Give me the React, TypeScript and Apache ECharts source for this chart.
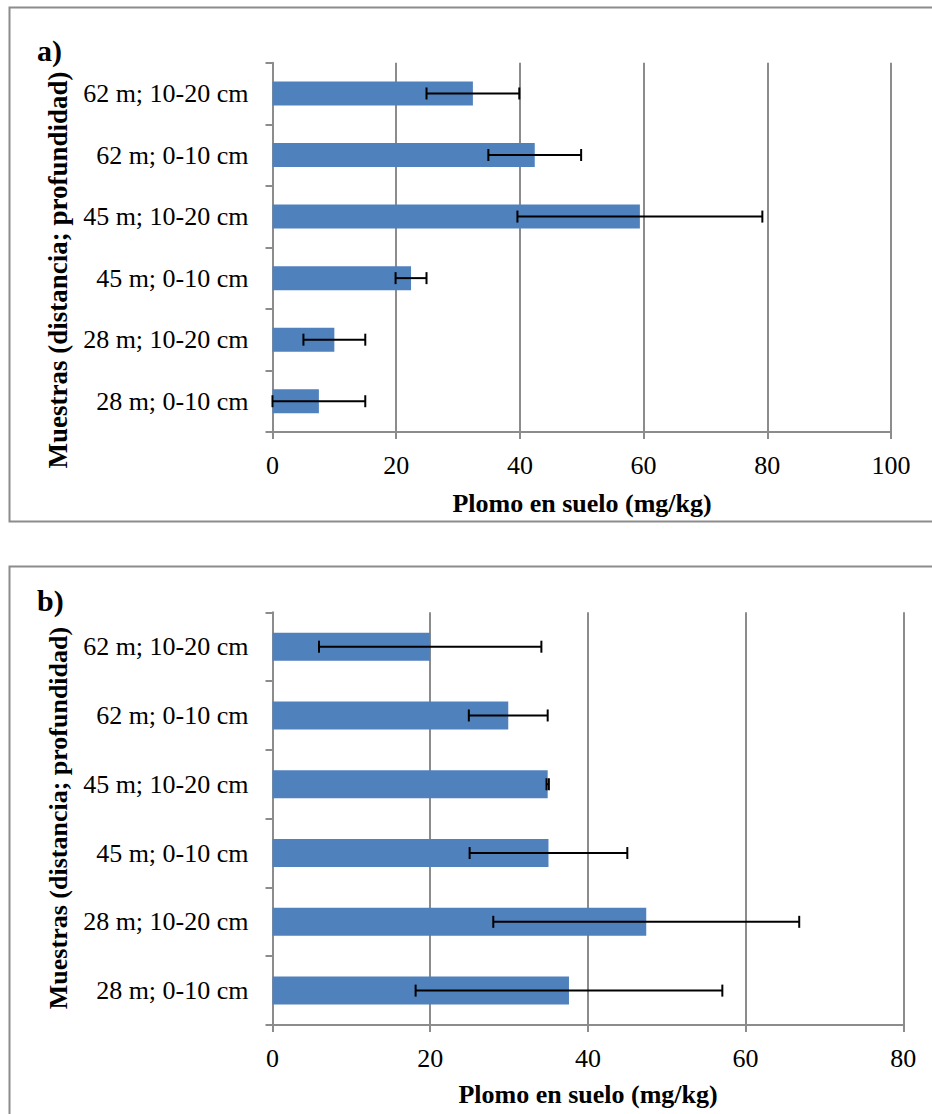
import React, { useEffect, useRef } from "react";
import * as echarts from "echarts";

// Sample labels, bottom to top as the category axis lays them out
const categories = [
  "28 m; 0-10 cm",
  "28 m; 10-20 cm",
  "45 m; 0-10 cm",
  "45 m; 10-20 cm",
  "62 m; 0-10 cm",
  "62 m; 10-20 cm",
];

// Panel a) lead in soil (mg/kg) and its standard deviation
const valuesA = [7.5, 10.0, 22.4, 59.4, 42.4, 32.4];
const errorsA = [7.5, 5.0, 2.5, 19.8, 7.5, 7.5];

// Panel b) lead in soil (mg/kg) and its standard deviation
const valuesB = [37.6, 47.4, 35.0, 34.9, 29.9, 20.0];
const errorsB = [19.45, 19.4, 10.0, 0.15, 5.0, 14.1];

const xTicksA = [0, 20, 40, 60, 80, 100];
const xTicksB = [0, 20, 40, 60, 80];

const panelLabels = ["a)", "b)"];
const xTitle = "Plomo en suelo (mg/kg)";
const yTitle = "Muestras (distancia; profundidad)";

const FONT = "'Liberation Serif', 'Times New Roman', serif";
const GRAY = "#8c8c8c";
const BLUE = "#4f81bd";

function errorData(values: number[], errors: number[]) {
  return values.map((v, i) => [i, Math.max(0, v - errors[i]), v + errors[i]]);
}

function errorRender(params: any, api: any) {
  const cat = api.value(0);
  const lo = api.coord([api.value(1), cat]);
  const hi = api.coord([api.value(2), cat]);
  const half = 6;
  const style = { stroke: "#000", lineWidth: 2 };
  return {
    type: "group",
    children: [
      { type: "line", shape: { x1: lo[0], y1: lo[1], x2: hi[0], y2: hi[1] }, style },
      { type: "line", shape: { x1: lo[0], y1: lo[1] - half, x2: lo[0], y2: lo[1] + half }, style },
      { type: "line", shape: { x1: hi[0], y1: hi[1] - half, x2: hi[0], y2: hi[1] + half }, style },
    ],
  };
}

function xAxis(gridIndex: number, ticks: number[]) {
  return {
    type: "value",
    gridIndex,
    min: ticks[0],
    max: ticks[ticks.length - 1],
    interval: ticks[1] - ticks[0],
    axisLine: { show: true, lineStyle: { color: GRAY, width: 2 } },
    axisTick: { show: true, length: 7, lineStyle: { color: GRAY, width: 2 } },
    axisLabel: { margin: 20, color: "#000", fontFamily: FONT, fontSize: 26 },
    splitLine: { show: true, lineStyle: { color: GRAY, width: 2 } },
  };
}

function yAxis(gridIndex: number) {
  return {
    type: "category",
    gridIndex,
    data: categories,
    axisLine: { show: true, lineStyle: { color: GRAY, width: 2 } },
    axisTick: { show: true, length: 7, lineStyle: { color: GRAY, width: 2 } },
    axisLabel: { margin: 24, color: "#000", fontFamily: FONT, fontSize: 26 },
    splitLine: { show: false },
  };
}

function text(x: number, y: number, s: string, opts: any = {}) {
  return {
    type: "text",
    x,
    y,
    rotation: opts.rotation || 0,
    style: {
      text: s,
      fill: "#000",
      font: `bold ${opts.size || 26}px ${FONT}`,
      align: opts.align || "center",
      verticalAlign: "middle",
    },
    z: 10,
  };
}

export default function App() {
  const ref = useRef<HTMLDivElement>(null);

  useEffect(() => {
    if (!ref.current) return;
    const chart = echarts.init(ref.current, undefined, { renderer: "svg" });
    chart.setOption({
      animation: false,
      backgroundColor: "#fff",
      grid: [
        { left: 272.5, top: 62.7, width: 618.5, height: 369.3, outerBoundsMode: "none", containLabel: false },
        { left: 272.5, top: 612.3, width: 630.8, height: 412.7, outerBoundsMode: "none", containLabel: false },
      ],
      xAxis: [xAxis(0, xTicksA), xAxis(1, xTicksB)],
      yAxis: [yAxis(0), yAxis(1)],
      series: [
        {
          type: "bar",
          xAxisIndex: 0,
          yAxisIndex: 0,
          data: valuesA,
          barWidth: 24,
          itemStyle: { color: BLUE },
        },
        {
          type: "custom",
          xAxisIndex: 0,
          yAxisIndex: 0,
          data: errorData(valuesA, errorsA),
          encode: { x: [1, 2], y: 0 },
          renderItem: errorRender,
          z: 5,
        },
        {
          type: "bar",
          xAxisIndex: 1,
          yAxisIndex: 1,
          data: valuesB,
          barWidth: 28,
          itemStyle: { color: BLUE },
        },
        {
          type: "custom",
          xAxisIndex: 1,
          yAxisIndex: 1,
          data: errorData(valuesB, errorsB),
          encode: { x: [1, 2], y: 0 },
          renderItem: errorRender,
          z: 5,
        },
      ],
      graphic: [
        {
          type: "rect",
          shape: { x: 9.5, y: 7.5, width: 940, height: 514 },
          style: { fill: "none", stroke: GRAY, lineWidth: 2 },
          silent: true,
        },
        {
          type: "rect",
          shape: { x: 9.5, y: 566.5, width: 940, height: 600 },
          style: { fill: "none", stroke: GRAY, lineWidth: 2 },
          silent: true,
        },
        text(37, 50, panelLabels[0], { align: "left", size: 30 }),
        text(37, 600, panelLabels[1], { align: "left", size: 30 }),
        text(582, 503, xTitle),
        text(588, 1094, xTitle),
        text(58, 270, yTitle, { rotation: Math.PI / 2, size: 27 }),
        text(58, 818, yTitle, { rotation: Math.PI / 2, size: 26 }),
      ],
    });
    return () => chart.dispose();
  }, []);

  return (
    <div
      ref={ref}
      style={{ position: "absolute", left: 0, top: 0, width: 932, height: 1114 }}
    />
  );
}
